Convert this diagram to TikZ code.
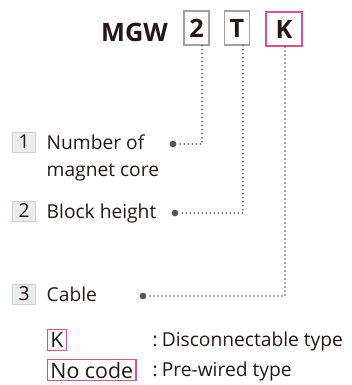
\documentclass[tikz,border=0pt]{standalone}
\usepackage{fontspec}
\setmainfont{Open Sans}
\usetikzlibrary{calc}
\definecolor{codepink}{RGB}{226,78,146}
\definecolor{boxgray}{RGB}{160,160,160}
\definecolor{numfill}{RGB}{236,238,238}
\definecolor{numline}{RGB}{205,208,208}
\definecolor{ink}{RGB}{35,24,21}
\definecolor{dotgray}{RGB}{85,85,85}

\begin{document}
\begin{tikzpicture}[x=0.75pt,y=-0.75pt,
    every node/.style={text=ink,font=\fontsize{14.4}{17}\selectfont},
    codebox/.style={draw=boxgray,line width=1.1pt,inner sep=0pt,
      minimum width=18.75pt,minimum height=25.5pt,
      font=\bfseries\fontsize{19}{20}\selectfont},
    numbox/.style={draw=numline,fill=numfill,line width=0.7pt,inner sep=0pt,
      minimum width=17pt,minimum height=15pt},
    pinkbox/.style={draw=codepink,line width=0.8pt,inner xsep=2.2pt,inner ysep=0pt,
      minimum height=16pt,font=\fontsize{16}{18}\selectfont},
    leader/.style={dotgray,line width=1.4pt,line cap=round,
      dash pattern=on 0pt off 3pt},
    enddot/.style={circle,fill=dotgray,inner sep=0pt,minimum size=5pt}]
  \useasboundingbox (0,0) rectangle (351,385);

  % model code
  \node[font=\bfseries\fontsize{19}{20}\selectfont] (mgw) at (134.5,32) {MGW};
  \node[codebox] (b2) at (196.5,28) {2};
  \node[codebox] (bT) at (237,28) {T};
  \node[codebox,draw=codepink,line width=1.5pt,minimum width=27pt] (bK) at (284,29) {K};

  % items
  \node[numbox] (n1) at (24,142) {1};
  \node[anchor=base west] (t1) at (42,149) {Number of};
  \node[anchor=base west] (t1b) at (42,176) {magnet core};
  \node[numbox] (n2) at (24,211) {2};
  \node[anchor=base west] (t2) at (42,218) {Block height};
  \node[numbox] (n3) at (24,294) {3};
  \node[anchor=base west] (t3) at (42,301) {Cable};

  % end dots and corners
  \node[enddot] (d1) at (173,144) {};
  \node[enddot] (d2) at (175,213) {};
  \node[enddot] (d3) at (143,296) {};
  \coordinate (k1) at (202,144);
  \coordinate (k2) at (243,213);
  \coordinate (k3) at (285,296);

  \draw[leader] (k1 |- b2.south) -- (k1) -- (d1);
  \draw[leader] (k2 |- bT.south) -- (k2) -- (d2);
  \draw[leader] (k3 |- bK.south) -- (k3) -- (d3);

  % cable codes
  \node[pinkbox,anchor=west] (cK) at (47,340) {K};
  \node[pinkbox,anchor=west] (cN) at (47,370) {No code};
  \node[anchor=base west] (dK) at (148,346) {:\hspace{3pt}Disconnectable type};
  \node[anchor=base west] (dN) at (148,376) {:\hspace{3pt}Pre-wired type};
\end{tikzpicture}
\end{document}
